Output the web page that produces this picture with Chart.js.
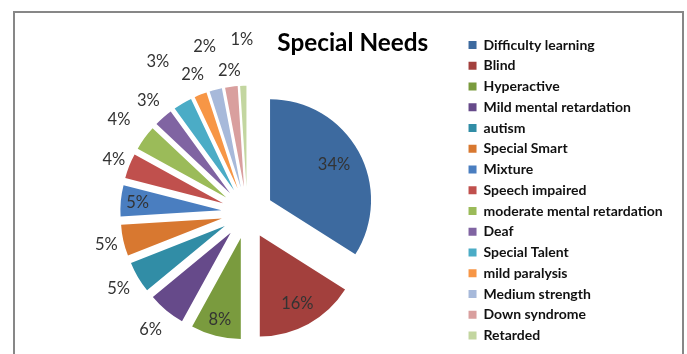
<!DOCTYPE html>
<html>
<head>
<meta charset="utf-8">
<script src="https://cdn.jsdelivr.net/npm/chart.js@4.4.0/dist/chart.umd.min.js"></script>
<style>
  html, body { margin: 0; padding: 0; background: #fff; }
  #wrap { position: relative; width: 687px; height: 354px; overflow: hidden; }
  #frame { position: absolute; left: 13px; top: 11px; width: 667px; height: 400px; border: 2px solid #878787; }
  #myChart { position: absolute; left: 0; top: 0; }
</style>
</head>
<body>
<div id="wrap">
  <div id="frame"></div>
  <canvas id="myChart" width="687" height="354"></canvas>
</div>
<script>
// categories and their share (percent)
const categories = [
    'Difficulty learning', 'Blind', 'Hyperactive', 'Mild mental retardation', 'autism',
    'Special Smart', 'Mixture', 'Speech impaired', 'moderate mental retardation', 'Deaf',
    'Special Talent', 'mild paralysis', 'Medium strength', 'Down syndrome', 'Retarded'
];
const shares = [34, 16, 8, 6, 5, 5, 5, 4, 4, 3, 3, 2, 2, 2, 1];

// excel 2007 palette
const sliceColors = [
    '#3d6a9f', '#a3403d', '#7a9b3e', '#664a8a', '#318da6',
    '#d87830', '#4a7ec0', '#c0504d', '#9bbb59', '#8064a2',
    '#4bacc6', '#f79646', '#a7b9da', '#d99f9e', '#c3d6a0'
];

// where each % label sits, as a multiple of the radius from the pie centre
const labelDist = [0.98, 1.03, 1.09, 1.50, 1.48, 1.43, 1.09, 1.42, 1.57, 1.48, 1.74, 1.47, 1.70, 1.42, 1.71];

const EXPLODE = 26; // px each slice is pulled out

// exploded pie: every slice moved out along its own middle angle
// (chart.js' own offset option also grows/shrinks the arcs, so do the move here)
const explode = {
    id: 'explode',
    beforeDatasetDraw(chart, args) {
        const c = chart.ctx;
        args.meta.data.forEach(arc => {
            const mid = (arc.startAngle + arc.endAngle) / 2;
            c.save();
            c.translate(Math.cos(mid) * EXPLODE, Math.sin(mid) * EXPLODE);
            arc.draw(c);
            c.restore();
        });
        return false;
    }
};

// draws the percentage next to / inside each slice
const pctLabels = {
    id: 'pctLabels',
    afterDatasetsDraw(chart) {
        const meta = chart.getDatasetMeta(0);
        const total = shares.reduce((a, b) => a + b, 0);
        const c = chart.ctx;
        c.save();
        c.font = '16.5px Lato';
        c.fillStyle = '#333333';
        c.textAlign = 'center';
        c.textBaseline = 'middle';
        meta.data.forEach((arc, i) => {
            const mid = (arc.startAngle + arc.endAngle) / 2;
            const d = arc.outerRadius * labelDist[i];
            const txt = Math.round(shares[i] / total * 100) + '%';
            c.fillText(txt, arc.x + Math.cos(mid) * d, arc.y + Math.sin(mid) * d);
        });
        c.restore();
    }
};

const ctx = document.getElementById('myChart').getContext('2d');
const chart = new Chart(ctx, {
    type: 'pie',
    data: {
        labels: categories,
        datasets: [{
            data: shares,
            backgroundColor: sliceColors,
            borderWidth: 0
        }]
    },
    options: {
        responsive: false,
        animation: false,
        radius: 101,
        layout: {
            padding: { left: 32.75, right: 14.25, top: 0, bottom: 4.75 }
        },
        plugins: {
            title: {
                display: true,
                text: 'Special Needs',
                color: '#000',
                font: { family: 'Lato', size: 24.3, weight: 'bold' },
                padding: { top: 29, bottom: 18 }
            },
            legend: {
                position: 'right',
                align: 'end',
                labels: {
                    boxWidth: 8,
                    boxHeight: 8,
                    padding: 6.75, // 14 + 6.75 -> ~20.8px per row
                    color: '#111',
                    font: { family: 'Lato', size: 14, weight: 'bold' }
                }
            },
            tooltip: { enabled: false }
        }
    },
    plugins: [explode, pctLabels]
});
</script>
</body>
</html>
